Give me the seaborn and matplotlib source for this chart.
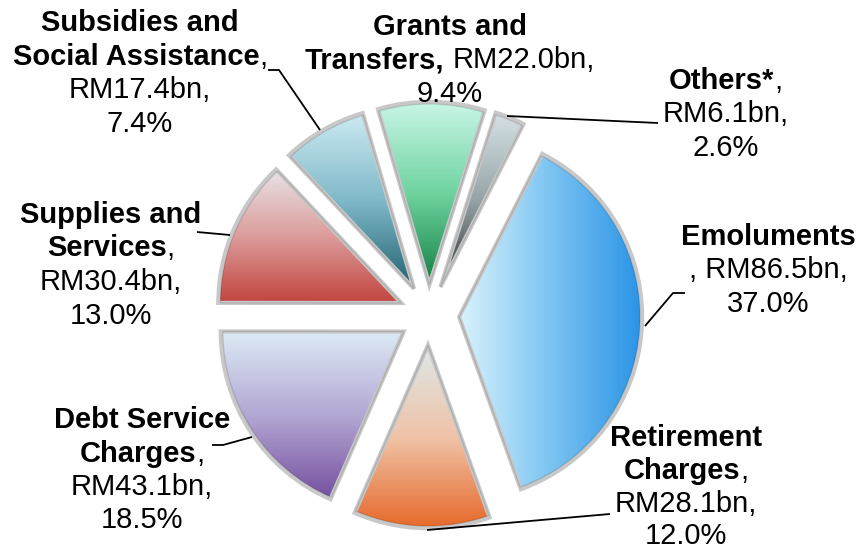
import numpy as np
import matplotlib
matplotlib.use("Agg")
import matplotlib.pyplot as plt
from matplotlib.patches import Wedge
import seaborn as sns

# ---------------- data ----------------
categories = ["Emoluments", "Retirement Charges", "Debt Service Charges",
              "Supplies and Services", "Subsidies and Social Assistance",
              "Grants and Transfers", "Others*"]
values_bn = [86.5, 28.1, 43.1, 30.4, 17.4, 22.0, 6.1]
shares_pct = [37.0, 12.0, 18.5, 13.0, 7.4, 9.4, 2.6]

# gradient stops per slice (light -> base -> dark)
grad_colors = [
    ["#daf3fc", "#7cc4f2", "#2a93e6"],   # Emoluments
    ["#dde8ea", "#f0c3a8", "#e6692a"],   # Retirement
    ["#dcebf6", "#b3a7d3", "#75509f"],   # Debt service
    ["#e8e4e8", "#dc9c9b", "#c2443e"],   # Supplies
    ["#cdebf3", "#7fb8c8", "#20606f"],   # Subsidies
    ["#c9f6e6", "#6fd3a0", "#127f43"],   # Grants
    ["#d6e2e6", "#96a4a8", "#2a3030"],   # Others
]
grad_dir = ["h", "v", "v", "v", "v", "v", "v"]

# ---------------- figure ----------------
sns.set_theme(style="white")
plt.rcParams["font.family"] = ["Liberation Sans", "DejaVu Sans"]

W, H = 861, 556
fig = plt.figure(figsize=(W / 100, H / 100), dpi=100)
ax = fig.add_axes([0, 0, 1, 1])

R_PX = 183.0
CX, CY = 429.0, 315.0

wedges, _ = ax.pie(values_bn, startangle=63, counterclock=False,
                   explode=[0.165] * len(values_bn), radius=1.0,
                   wedgeprops=dict(linewidth=0, edgecolor="none"))

ax.set_aspect("auto")
ax.axis("off")

for w, cols, d in zip(wedges, grad_colors, grad_dir):
    w.set_facecolor(cols[1])
    cmap = sns.blend_palette(cols, n_colors=256, as_cmap=True)
    ext = w.get_path().get_extents()
    g = np.linspace(0, 1, 256)
    img = g[:, None] if d == "v" else g[None, :]
    im = ax.imshow(img, cmap=cmap, extent=[ext.x0, ext.x1, ext.y0, ext.y1],
                   origin="upper", aspect="auto", zorder=2,
                   interpolation="bilinear")
    im.set_clip_path(w)
    edge = Wedge(w.center, w.r, w.theta1, w.theta2, facecolor="none",
                 edgecolor="#c8c8c8", linewidth=3, zorder=3,
                 joinstyle="miter")
    ax.add_patch(edge)
    inner = Wedge(w.center, w.r - 0.012, w.theta1, w.theta2, facecolor="none",
                  edgecolor=(0, 0, 0, 0.12), linewidth=1, zorder=3)
    ax.add_patch(inner)

ax.set_xlim(-CX / R_PX, (W - CX) / R_PX)
ax.set_ylim(-(H - CY) / R_PX, CY / R_PX)

# ---------------- labels ----------------
FS = 21
renderer = fig.canvas.get_renderer()


def text_w(s, bold):
    t = fig.text(0, 0, s, fontsize=FS, fontweight="bold" if bold else "normal")
    wd = t.get_window_extent(renderer).width
    t.remove()
    return wd


SPACE_W = text_w("a a", False) - text_w("aa", False)


def draw_line(cx, base, pieces):
    items = []
    total = 0.0
    for s, bold in pieces:
        lead = s.startswith(" ")
        core = s.strip()
        gap = SPACE_W if lead else 0.0
        wd = text_w(core, bold)
        items.append((core, bold, gap, wd))
        total += gap + wd
    x = cx - total / 2
    for core, bold, gap, wd in items:
        x += gap
        fig.text(x / W, 1 - base / H, core, fontsize=FS,
                 fontweight="bold" if bold else "normal",
                 ha="left", va="baseline", color="black")
        x += wd


B, Rg = True, False
label_specs = [
    (768, 245, [[("Emoluments", B)],
                [(", RM%.1fbn," % values_bn[0], Rg)],
                [("%.1f%%" % shares_pct[0], Rg)]]),
    (686, 446, [[("Retirement", B)],
                [("Charges", B), (",", Rg)],
                [("RM%.1fbn," % values_bn[1], Rg)],
                [("%.1f%%" % shares_pct[1], Rg)]]),
    (142, 428, [[("Debt Service", B)],
                [("Charges", B), (",", Rg)],
                [("RM%.1fbn," % values_bn[2], Rg)],
                [("%.1f%%" % shares_pct[2], Rg)]]),
    (111, 223, [[("Supplies and", B)],
                [("Services", B), (",", Rg)],
                [("RM%.1fbn," % values_bn[3], Rg)],
                [("%.1f%%" % shares_pct[3], Rg)]]),
    (140, 31, [[("Subsidies and", B)],
               [("Social Assistance", B), (",", Rg)],
               [("RM%.1fbn," % values_bn[4], Rg)],
               [("%.1f%%" % shares_pct[4], Rg)]]),
    (450, 35, [[("Grants and", B)],
               [("Transfers,", B), (" RM%.1fbn," % values_bn[5], Rg)],
               [("%.1f%%" % shares_pct[5], Rg)]]),
    (726, 89, [[("Others*", B), (",", Rg)],
               [("RM%.1fbn," % values_bn[6], Rg)],
               [("%.1f%%" % shares_pct[6], Rg)]]),
]
for cx, base, lines in label_specs:
    LS = 32.8 if cx == 686 else 33.5
    for i, pieces in enumerate(lines):
        draw_line(cx, base + i * LS, pieces)

# ---------------- leader lines (pixel layout) ----------------
leaders = [
    [(645, 326), (673, 293), (685, 293)],
    [(427, 530), (610, 514)],
    [(212, 445), (223, 445), (252, 437)],
    [(197, 232), (230, 235)],
    [(268, 70), (279, 70), (320, 130)],
    [(507, 116), (658, 123)],
]
for pts in leaders:
    xs = [(p[0] - CX) / R_PX for p in pts]
    ys = [(CY - p[1]) / R_PX for p in pts]
    ax.plot(xs, ys, color="black", linewidth=1.3, zorder=4,
            solid_capstyle="butt")

fig.savefig("out.png", dpi=100)
